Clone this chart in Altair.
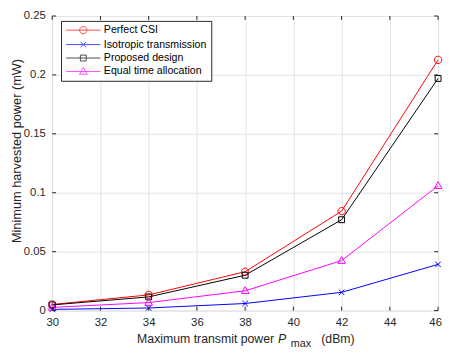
import altair as alt
import pandas as pd

# ---- data ----
x_power = [30, 34, 38, 42, 46]
series_names = ["Perfect CSI", "Isotropic transmission", "Proposed design", "Equal time allocation"]
perfect_csi = [0.0052, 0.0133, 0.0330, 0.0844, 0.2128]
isotropic = [0.0010, 0.0022, 0.0060, 0.0155, 0.0392]
proposed = [0.0048, 0.0116, 0.0300, 0.0771, 0.1970]
equal_time = [0.0027, 0.0068, 0.0168, 0.0424, 0.1060]
series_values = [perfect_csi, isotropic, proposed, equal_time]

x_ticks = [30, 32, 34, 36, 38, 40, 42, 44, 46]
y_ticks = [0, 0.05, 0.1, 0.15, 0.2, 0.25]

# ---- styles ----
series_colors = ["#ff0000", "#0000ff", "#000000", "#ff00ff"]
marker_paths = [
    "M-1,0A1,1 0 1,1 1,0A1,1 0 1,1 -1,0Z",
    "M-0.75,-0.75L0.75,0.75M-0.75,0.75L0.75,-0.75",
    "M-0.8,-0.8H0.8V0.8H-0.8Z",
    "M0,-1.1L1.05,0.75H-1.05Z",
]
legend_paths = ["M-4.67,0H4.67" + p for p in marker_paths]

W, H = 393, 300
AX = "#262626"
FONT = "Liberation Sans"

rows = []
for name, vals in zip(series_names, series_values):
    for xv, yv in zip(x_power, vals):
        rows.append({"series": name, "power": xv, "value": yv})
df = pd.DataFrame(rows)

x_axis = alt.Axis(values=x_ticks, title=None, grid=True, ticks=False, tickSize=0, domain=False,
                  labelFlush=False, labelPadding=6, labelFontSize=11.5, labelFont=FONT,
                  labelColor=AX, gridColor="#e3e3e3", gridWidth=1,
                  labelOffset={"condition": {"test": "datum.value == 46", "value": -3}, "value": 0})
y_axis = alt.Axis(values=y_ticks, format="~g", title="Minimum harvested power (mW)", grid=True,
                  ticks=False, tickSize=0, domain=False, labelFlush=False, labelPadding=7,
                  labelFontSize=11.5, labelFont=FONT, labelColor=AX, gridColor="#e3e3e3",
                  gridWidth=1, titleFont=FONT, titleFontSize=13, titleFontWeight="normal",
                  titleColor=AX, titleAngle=270, titleAlign="center", titleBaseline="alphabetic",
                  titleX=-32.5, titleY=137)
x_scale = alt.Scale(domain=[30, 46], nice=False, zero=False)
y_scale = alt.Scale(domain=[0, 0.25], nice=False)


def xe(field):
    return alt.X(field, scale=x_scale, axis=x_axis)


def ye(field):
    return alt.Y(field, scale=y_scale, axis=y_axis)


layers = []
for name, col in zip(series_names, series_colors):
    sub = df[df["series"] == name]
    layers.append(alt.Chart(sub).mark_line(color=col, strokeWidth=1).encode(
        x=xe("power:Q"), y=ye("value:Q")))
for name, col, mpath in zip(series_names, series_colors, marker_paths):
    sub = df[df["series"] == name]
    layers.append(alt.Chart(sub).mark_point(filled=False, color=col, strokeWidth=1, size=56,
                                            shape=mpath, opacity=1).encode(
        x=xe("power:Q"), y=ye("value:Q")))

# inward tick marks (MATLAB style)
xt = pd.DataFrame({"t": x_ticks})
yt = pd.DataFrame({"t": y_ticks})
layers.append(alt.Chart(xt).mark_rule(color=AX, strokeWidth=1).encode(
    x=xe("t:Q"), y=alt.value(H), y2=alt.value(H - 4)))
layers.append(alt.Chart(xt).mark_rule(color=AX, strokeWidth=1).encode(
    x=xe("t:Q"), y=alt.value(0), y2=alt.value(4)))
layers.append(alt.Chart(yt).mark_rule(color=AX, strokeWidth=1).encode(
    y=ye("t:Q"), x=alt.value(0), x2=alt.value(4)))
layers.append(alt.Chart(yt).mark_rule(color=AX, strokeWidth=1).encode(
    y=ye("t:Q"), x=alt.value(W), x2=alt.value(W - 4)))

# legend (line + marker symbols)
leg = alt.Legend(title=None, orient="none", legendX=9, legendY=5, strokeColor=AX,
                 fillColor="white", padding=4, rowPadding=1.7, labelFontSize=10.8,
                 labelFont=FONT, labelColor="#000000", symbolSize=56, symbolStrokeWidth=1,
                 symbolOffset=13.3, labelOffset=15.5, cornerRadius=0)
layers.append(alt.Chart(df).mark_point(filled=False, strokeWidth=1, size=56, clip=True).encode(
    x=xe("power:Q"), y=alt.value(-500),
    color=alt.Color("series:N", scale=alt.Scale(domain=series_names, range=series_colors), legend=leg),
    shape=alt.Shape("series:N", scale=alt.Scale(domain=series_names, range=legend_paths), legend=leg),
))

# x axis title with subscript
one = pd.DataFrame({"a": [0]})
TY = 333
layers.append(alt.Chart(one).mark_text(text="Maximum transmit power", align="right", baseline="alphabetic",
                                       font=FONT, fontSize=12.5, color=AX).encode(
    x=alt.value(226), y=alt.value(TY)))
layers.append(alt.Chart(one).mark_text(text="P", align="left", baseline="alphabetic", font=FONT,
                                       fontSize=12.5, fontStyle="italic", color=AX).encode(
    x=alt.value(230), y=alt.value(TY)))
layers.append(alt.Chart(one).mark_text(text="max", align="left", baseline="alphabetic", font=FONT,
                                       fontSize=11, color=AX).encode(
    x=alt.value(243), y=alt.value(TY + 4)))
layers.append(alt.Chart(one).mark_text(text="(dBm)", align="left", baseline="alphabetic", font=FONT,
                                       fontSize=12.5, color=AX).encode(
    x=alt.value(274), y=alt.value(TY)))

chart = alt.layer(*layers).properties(
    width=W, height=H,
    autosize=alt.AutoSizeParams(type="none"),
    padding={"left": 45, "top": 5, "right": 5, "bottom": 37},
).configure_view(stroke=AX, strokeWidth=1).configure(background="white")

chart.save("out.html", embed_options={"renderer": "svg", "actions": False})
